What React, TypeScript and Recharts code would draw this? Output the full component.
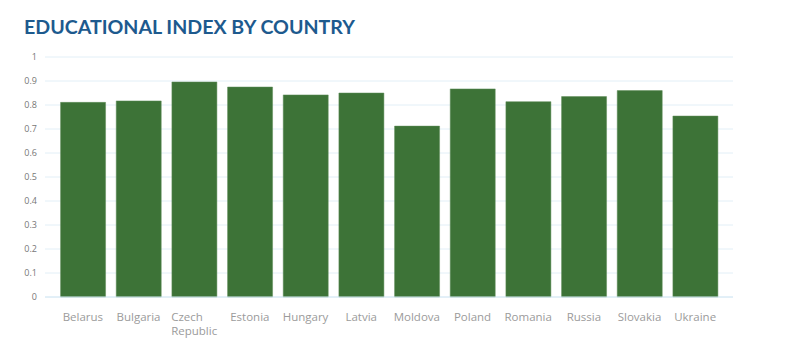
import { BarChart, Bar, XAxis, YAxis, CartesianGrid } from 'recharts';

const countries = ['Belarus', 'Bulgaria', 'Czech Republic', 'Estonia', 'Hungary', 'Latvia', 'Moldova', 'Poland', 'Romania', 'Russia', 'Slovakia', 'Ukraine'];
const indexValues = [0.811, 0.817, 0.896, 0.875, 0.842, 0.85, 0.712, 0.867, 0.814, 0.835, 0.86, 0.754];
const yTicks = [0, 0.1, 0.2, 0.3, 0.4, 0.5, 0.6, 0.7, 0.8, 0.9, 1];

const data = countries.map((c, i) => ({ country: c, value: indexValues[i] }));

const CountryTick = (props: any) => {
  const { x, y, payload } = props;
  const words = String(payload.value).split(' ');
  const wrapped = words.length > 1;
  // wrapped label: lines left-aligned inside a centred block (as in the original)
  const longest = Math.max(...words.map((w) => w.length));
  const startX = wrapped ? -longest * 11.5 * 0.25 : 0;
  return (
    <g transform={`translate(${x},${y})`}>
      <text
        textAnchor={wrapped ? 'start' : 'middle'}
        fill="#9b9b9b"
        fontSize={11.5}
        fontFamily="'Open Sans', sans-serif"
      >
        {(wrapped ? words : [payload.value]).map((l: string, i: number) => (
          <tspan key={i} x={startX} dy={i === 0 ? 16 : 13.5}>{l}</tspan>
        ))}
      </text>
    </g>
  );
};

export default function App() {
  return (
    <div style={{ position: 'absolute', left: 0, top: 0, width: 789, height: 345, background: '#fff' }}>
      <div
        style={{
          position: 'absolute',
          left: 24,
          top: 15,
          fontFamily: 'Lato, sans-serif',
          fontWeight: 700,
          fontSize: 19.6,
          color: '#1d5a8e',
          whiteSpace: 'nowrap',
        }}
      >
        EDUCATIONAL INDEX BY COUNTRY
      </div>
      <BarChart
        width={789}
        height={345}
        data={data}
        margin={{ top: 57, right: 56, bottom: 0, left: 0 }}
        barCategoryGap="10%"
      >
        <CartesianGrid vertical={false} stroke="#e2eff7" />
        <XAxis
          dataKey="country"
          interval={0}
          tickLine={false}
          axisLine={{ stroke: '#d4e8f4' }}
          padding={{ left: 10, right: 10 }}
          height={48}
          tick={<CountryTick />}
        />
        <YAxis
          width={45}
          domain={[0, 1]}
          ticks={yTicks}
          tickLine={false}
          axisLine={false}
          tickSize={0}
          tickMargin={8}
          tick={{ fontSize: 9, fill: '#777', fontFamily: "'Open Sans', sans-serif" }}
        />
        <Bar dataKey="value" fill="#3d7337" stroke="#5f8d59" strokeWidth={0.5} isAnimationActive={false} />
      </BarChart>
    </div>
  );
}
